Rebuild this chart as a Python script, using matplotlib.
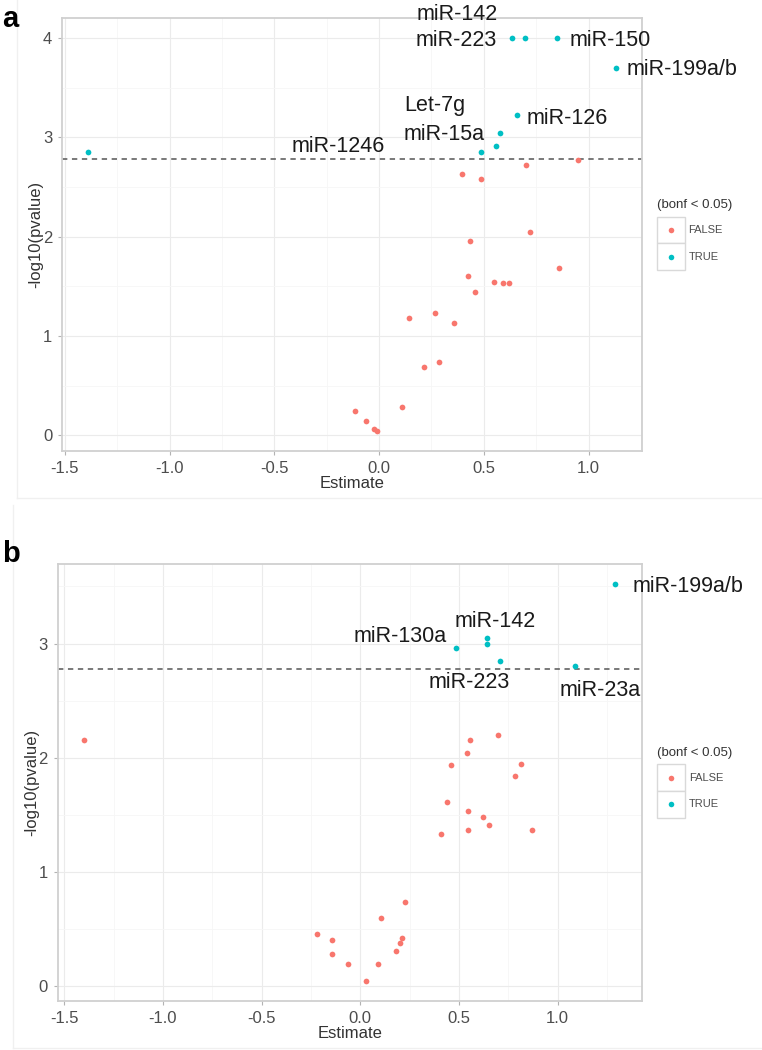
import numpy as np
import matplotlib.pyplot as plt
from matplotlib.patches import Rectangle
from matplotlib.lines import Line2D

plt.rcParams['font.family'] = ['Liberation Sans', 'DejaVu Sans']
plt.rcParams['axes.unicode_minus'] = False

# ---- data: panel a ----
a_false_x = [0.396, 0.484, 0.700, 0.951, 0.718, 0.436, 0.859, 0.426, 0.550, 0.592, 0.622,
             0.456, 0.143, 0.268, 0.356, 0.215, 0.284, 0.109, -0.115, -0.063, -0.023, -0.009]
a_false_y = [2.63, 2.58, 2.72, 2.77, 2.05, 1.96, 1.685, 1.60, 1.545, 1.535, 1.535,
             1.44, 1.18, 1.23, 1.13, 0.685, 0.735, 0.288, 0.244, 0.143, 0.067, 0.04]
a_true_x = [-1.388, 0.487, 0.560, 0.578, 0.660, 0.632, 0.694, 0.849, 1.129]
a_true_y = [2.85, 2.85, 2.915, 3.04, 3.225, 4.0, 4.0, 4.0, 3.695]
a_labels = ["miR-142", "miR-223", "miR-150", "miR-199a/b", "Let-7g", "miR-15a", "miR-126", "miR-1246"]

# ---- data: panel b ----
b_false_x = [-1.399, 0.698, 0.556, 0.541, 0.460, 0.813, 0.786, 0.441, 0.547, 0.622, 0.651, 0.547,
             0.407, 0.868, 0.226, 0.106, -0.221, -0.143, -0.143, 0.211, 0.202, 0.179, -0.062, 0.090, 0.028]
b_false_y = [2.157, 2.20, 2.157, 2.046, 1.94, 1.944, 1.843, 1.618, 1.531, 1.481, 1.409, 1.371,
             1.333, 1.368, 0.742, 0.599, 0.457, 0.404, 0.285, 0.422, 0.384, 0.314, 0.197, 0.197, 0.046]
b_true_x = [1.292, 0.486, 0.641, 0.641, 0.710, 1.088]
b_true_y = [3.52, 2.96, 3.05, 3.00, 2.85, 2.80]
b_labels = ["miR-199a/b", "miR-142", "miR-130a", "miR-223", "miR-23a"]

threshold = -np.log10(0.05 / 30)

# label placement (data coords of text baseline, alignment)
a_place = [(0.567, 4.18, 'right'), (0.562, 3.92, 'right'), (0.907, 3.92, 'left'),
           (1.181, 3.63, 'left'), (0.119, 3.26, 'left'), (0.119, 2.976, 'left'),
           (0.703, 3.136, 'left'), (0.029, 2.852, 'right')]
b_place = [(1.382, 3.455, 'left'), (0.682, 3.144, 'center'), (0.437, 3.01, 'right'),
           (0.551, 2.611, 'center'), (1.213, 2.538, 'center')]

W, H = 762, 1050
fig = plt.figure(figsize=(W / 100, H / 100), dpi=100)


def fx(x):
    return x / W


def fy(y):
    return 1 - y / H


def expand(vals, frac=0.05):
    lo, hi = min(vals), max(vals)
    pad = (hi - lo) * frac
    return lo - pad, hi + pad


def draw_panel(box, false_x, false_y, true_x, true_y, labels, place, yticks):
    left, top, right, bottom = box
    ax = fig.add_axes([fx(left), fy(bottom), (right - left) / W, (bottom - top) / H])
    ax.scatter(false_x, false_y, s=17, color='#F8766D', lw=0, zorder=3)
    ax.scatter(true_x, true_y, s=17, color='#00BFC4', lw=0, zorder=3)
    ax.axhline(threshold, color='#555555', lw=1.1, ls=(0, (3.5, 3)), zorder=2)

    ax.set_xticks([-1.5, -1.0, -0.5, 0.0, 0.5, 1.0])
    ax.set_xticks([-1.25, -0.75, -0.25, 0.25, 0.75, 1.25], minor=True)
    ax.set_yticks(yticks)
    ax.set_yticks([v + 0.5 for v in yticks], minor=True)
    ax.set_xticklabels(['-1.5', '-1.0', '-0.5', '0.0', '0.5', '1.0'])
    ax.set_yticklabels([str(v) for v in yticks])
    ax.set_xlim(*expand(false_x + true_x))
    ax.set_ylim(*expand(false_y + true_y))
    ax.grid(True, which='major', color='#EBEBEB', lw=0.8, zorder=0)
    ax.grid(True, which='minor', color='#F6F6F6', lw=0.6, zorder=0)
    ax.set_axisbelow(True)
    for s in ax.spines.values():
        s.set_color('#D0D0D0')
        s.set_linewidth(1.3)
    ax.tick_params(which='major', length=3, width=0.8, color='#B3B3B3',
                   labelsize=12, labelcolor='#4D4D4D', pad=4)
    ax.tick_params(which='minor', length=0)

    ax.set_xlabel('Estimate', fontsize=12, color='#333333')
    ax.set_ylabel('-log10(pvalue)', fontsize=12, color='#333333')
    ax.xaxis.set_label_coords(0.5, -0.074)
    ax.xaxis.label.set_va('center')
    ax.yaxis.set_label_coords(-0.045, 0.5)
    ax.yaxis.label.set_va('center')

    for name, (tx, ty, ha) in zip(labels, place):
        ax.text(tx, ty, name, ha=ha, va='baseline', fontsize=15.5,
                color='#1A1A1A', clip_on=False, zorder=4)
    return ax


def draw_legend(title_y, box_x, box_top, text_x):
    fig.text(fx(657), fy(title_y), '(bonf < 0.05)', ha='left', va='center',
             fontsize=9.5, color='#333333')
    kw, kh = 27.8, 26.7
    for i, (lab, col) in enumerate([('FALSE', '#F8766D'), ('TRUE', '#00BFC4')]):
        y0 = box_top + i * kh
        fig.add_artist(Rectangle((fx(box_x), fy(y0 + kh)), kw / W, kh / H,
                                 transform=fig.transFigure, facecolor='white',
                                 edgecolor='#D9D9D9', lw=1))
        fig.add_artist(Line2D([fx(box_x + kw / 2)], [fy(y0 + kh / 2)], marker='o', ms=4,
                              color=col, mew=0, transform=fig.transFigure))
        fig.text(fx(text_x), fy(y0 + kh / 2), lab, ha='left', va='center',
                 fontsize=8, color='#4D4D4D')


# faint outer frames of the two original images
for (lx, y0, y1) in [(17, 0, 498), (12.6, 505, 1048)]:
    fig.add_artist(Line2D([fx(lx), fx(lx)], [fy(y0), fy(y1)], color='#F0F0F0', lw=1,
                          transform=fig.transFigure))
    fig.add_artist(Line2D([fx(lx), 1], [fy(y1), fy(y1)], color='#F0F0F0', lw=1,
                          transform=fig.transFigure))

draw_panel((62, 18.3, 642, 451), a_false_x, a_false_y, a_true_x, a_true_y,
           a_labels, a_place, [0, 1, 2, 3, 4])
draw_panel((57.7, 564.3, 641.8, 1001), b_false_x, b_false_y, b_true_x, b_true_y,
           b_labels, b_place, [0, 1, 2, 3])

draw_legend(205, 656.7, 216.7, 688.3)
draw_legend(753, 657.3, 764.3, 689)

fig.text(fx(2.4), fy(26.7), 'a', fontsize=21, fontweight='bold', va='baseline', ha='left')
fig.text(fx(2.4), fy(561.7), 'b', fontsize=21, fontweight='bold', va='baseline', ha='left')

fig.savefig('out.png', dpi=100)
